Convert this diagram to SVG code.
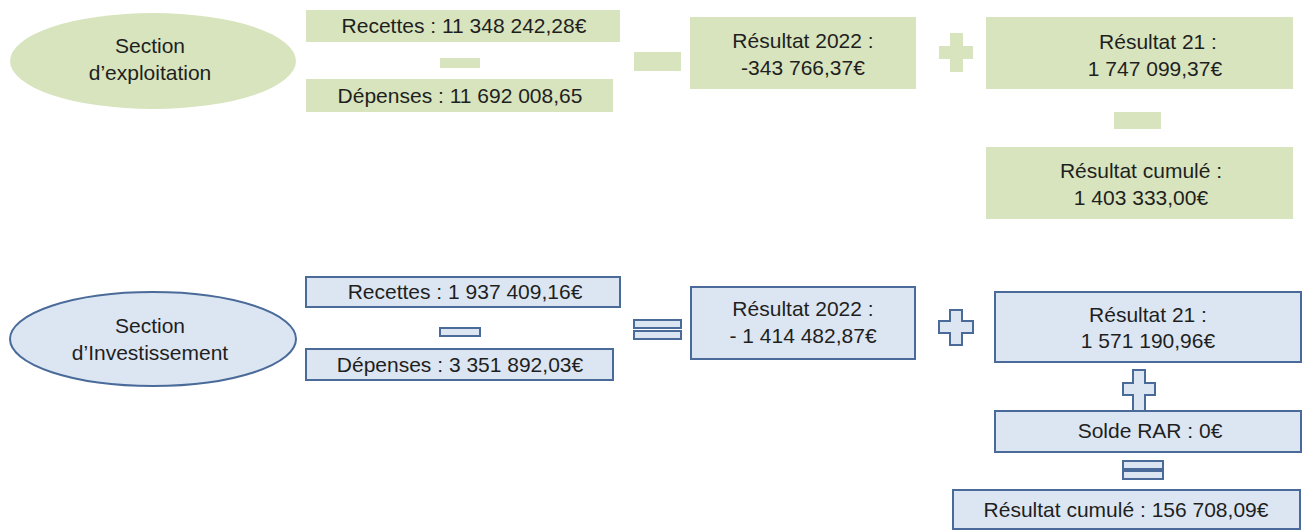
<svg xmlns="http://www.w3.org/2000/svg" width="1306" height="532" viewBox="0 0 1306 532">
<style>
  .g { fill: #d7e4bd; }
  .b { fill: #dce6f2; stroke: #4a6b9a; stroke-width: 2; }
  .t { font-family: "Liberation Sans", Arial, sans-serif; font-size: 21px; fill: #1f1f1f; text-anchor: middle; }
</style>
<rect width="1306" height="532" fill="#ffffff"/>
<g id="connectors"></g>

<!-- Section d'exploitation -->
<g id="section-exploitation">
  <ellipse class="g" cx="153" cy="61" rx="143" ry="48"/>
  <text class="t" x="150" y="53">Section</text>
  <text class="t" x="150" y="80">d’exploitation</text>
</g>
<g id="exp-recettes">
  <rect class="g" x="306" y="10" width="314" height="32"/>
  <text class="t" x="464" y="33">Recettes : 11 348 242,28€</text>
</g>
<g id="exp-minus-1"><rect class="g" x="440" y="58" width="40" height="10"/></g>
<g id="exp-depenses">
  <rect class="g" x="306" y="79" width="307" height="33"/>
  <text class="t" x="460" y="103">Dépenses : 11 692 008,65</text>
</g>
<g id="exp-minus-2"><rect class="g" x="634" y="52" width="47" height="19"/></g>
<g id="exp-resultat-2022">
  <rect class="g" x="690" y="17" width="226" height="72"/>
  <text class="t" x="803" y="48">Résultat 2022 :</text>
  <text class="t" x="803" y="75">-343 766,37€</text>
</g>
<g id="exp-plus"><path class="g" d="M950,33 H963 V46 H973 V59 H963 V72 H950 V59 H939 V46 H950 Z"/></g>
<g id="exp-resultat-21">
  <rect class="g" x="986" y="17" width="307" height="72"/>
  <text class="t" x="1158" y="49">Résultat 21 :</text>
  <text class="t" x="1155" y="76">1 747 099,37€</text>
</g>
<g id="exp-minus-3"><rect class="g" x="1114" y="112" width="47" height="17"/></g>
<g id="exp-resultat-cumule">
  <rect class="g" x="986" y="147" width="307" height="72"/>
  <text class="t" x="1141" y="178">Résultat cumulé :</text>
  <text class="t" x="1141" y="205">1 403 333,00€</text>
</g>

<!-- Section d'Investissement -->
<g id="section-investissement">
  <ellipse class="b" cx="153" cy="339" rx="143" ry="47"/>
  <text class="t" x="150" y="333">Section</text>
  <text class="t" x="150" y="360">d’Investissement</text>
</g>
<g id="inv-recettes">
  <rect class="b" x="306" y="277" width="314" height="30"/>
  <text class="t" x="465" y="299">Recettes : 1 937 409,16€</text>
</g>
<g id="inv-minus"><rect class="b" x="440" y="328" width="40" height="8"/></g>
<g id="inv-depenses">
  <rect class="b" x="306" y="349" width="307" height="31"/>
  <text class="t" x="460" y="372">Dépenses : 3 351 892,03€</text>
</g>
<g id="inv-equals-1">
  <rect class="b" x="634" y="320" width="47" height="8"/>
  <rect class="b" x="634" y="331" width="47" height="8"/>
</g>
<g id="inv-resultat-2022">
  <rect class="b" x="691" y="287" width="224" height="72"/>
  <text class="t" x="803" y="316">Résultat 2022 :</text>
  <text class="t" x="803" y="343">- 1 414 482,87€</text>
</g>
<g id="inv-plus-1"><path class="b" d="M950,310 H962 V321 H973 V333 H962 V345 H950 V333 H939 V321 H950 Z"/></g>
<g id="inv-resultat-21">
  <rect class="b" x="995" y="292" width="306" height="70"/>
  <text class="t" x="1148" y="322">Résultat 21 :</text>
  <text class="t" x="1148" y="348">1 571 190,96€</text>
</g>
<g id="inv-plus-2"><path class="b" d="M1133,370 H1145 V383 H1155 V395 H1145 V411 H1133 V395 H1123 V383 H1133 Z"/></g>
<g id="inv-solde-rar">
  <rect class="b" x="995" y="411" width="306" height="41"/>
  <text class="t" x="1150" y="438">Solde RAR : 0€</text>
</g>
<g id="inv-equals-2">
  <rect class="b" x="1123" y="461" width="40" height="8"/>
  <rect class="b" x="1123" y="471" width="40" height="8"/>
</g>
<g id="inv-resultat-cumule">
  <rect class="b" x="953" y="490" width="347" height="39"/>
  <text class="t" x="1126" y="517">Résultat cumulé : 156 708,09€</text>
</g>
</svg>
